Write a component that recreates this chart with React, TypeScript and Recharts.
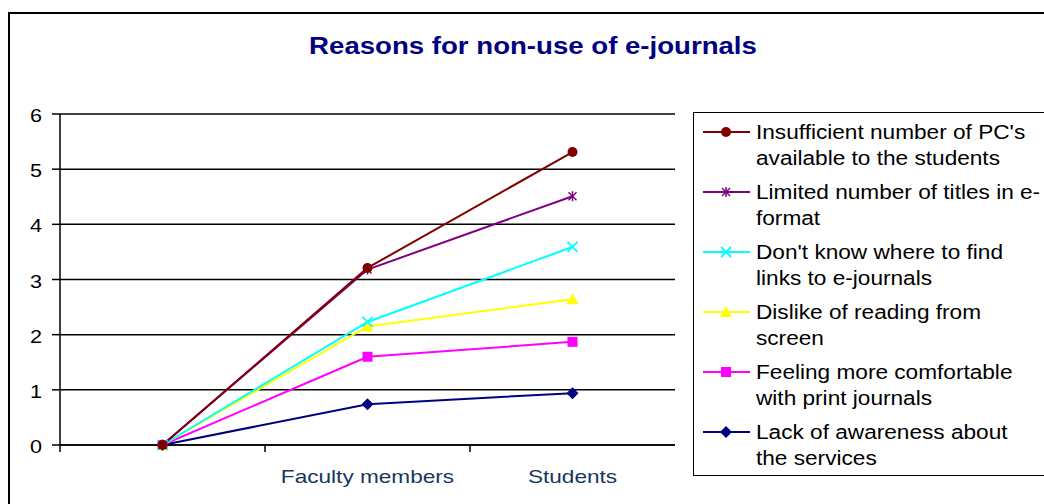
import React from 'react';
import { LineChart, Line, XAxis, YAxis, CartesianGrid } from 'recharts';

const categories = ['', 'Faculty members', 'Students'];

const insufficientPCs = [0, 3.21, 5.31];
const limitedTitles = [0, 3.18, 4.51];
const dontKnowLinks = [0, 2.23, 3.59];
const dislikeScreen = [0, 2.15, 2.64];
const printComfort = [0, 1.6, 1.87];
const lackAwareness = [0, 0.74, 0.94];

const yTicks = [0, 1, 2, 3, 4, 5, 6];

const seriesNames = [
  "Insufficient number of PC's\navailable to the students",
  'Limited number of titles in e-\nformat',
  "Don't know where to find\nlinks to e-journals",
  'Dislike of reading from\nscreen',
  'Feeling more comfortable\nwith print journals',
  'Lack of awareness about\nthe services',
];

const series = [
  { key: 'pcs', values: insufficientPCs, color: '#800000', marker: 'circle' },
  { key: 'titles', values: limitedTitles, color: '#800080', marker: 'star' },
  { key: 'links', values: dontKnowLinks, color: '#00FFFF', marker: 'cross' },
  { key: 'screen', values: dislikeScreen, color: '#FFFF00', marker: 'triangle' },
  { key: 'print', values: printComfort, color: '#FF00FF', marker: 'square' },
  { key: 'aware', values: lackAwareness, color: '#000080', marker: 'diamond' },
];

const data = categories.map((cat, i) => {
  const row: any = { cat };
  series.forEach((s) => (row[s.key] = s.values[i]));
  return row;
});

const FONT = '"Liberation Sans", Arial, sans-serif';

function Marker({ type, cx, cy, color }: { type: string; cx: number; cy: number; color: string }) {
  switch (type) {
    case 'circle':
      return <circle cx={cx} cy={cy} r={5} fill={color} />;
    case 'star':
      return (
        <g stroke={color} strokeWidth={1.5}>
          <line x1={cx - 4} y1={cy - 4} x2={cx + 4} y2={cy + 4} />
          <line x1={cx - 4} y1={cy + 4} x2={cx + 4} y2={cy - 4} />
          <line x1={cx} y1={cy - 5} x2={cx} y2={cy + 5} />
        </g>
      );
    case 'cross':
      return (
        <g stroke={color} strokeWidth={1.8}>
          <line x1={cx - 5} y1={cy - 5} x2={cx + 5} y2={cy + 5} />
          <line x1={cx - 5} y1={cy + 5} x2={cx + 5} y2={cy - 5} />
        </g>
      );
    case 'triangle':
      return <polygon points={`${cx},${cy - 6} ${cx + 6},${cy + 5} ${cx - 6},${cy + 5}`} fill={color} />;
    case 'square':
      return <rect x={cx - 5} y={cy - 5} width={10} height={10} fill={color} />;
    default:
      return <polygon points={`${cx},${cy - 6} ${cx + 6},${cy} ${cx},${cy + 6} ${cx - 6},${cy}`} fill={color} />;
  }
}

const XTick = (props: any) => {
  const { x, y, payload } = props;
  const off = payload.offset ?? 0;
  return (
    <g>
      <line x1={x - off} y1={y} x2={x - off} y2={y + 7} stroke="#000" strokeWidth={1.5} />
      <text
        transform={`translate(${x},${y + 38}) scale(1.19,1)`}
        textAnchor="middle"
        fill="#17375E"
        fontSize={19}
        fontFamily={FONT}
      >
        {payload.value}
      </text>
    </g>
  );
};

const YTick = (props: any) => {
  const { x, y, payload } = props;
  return (
    <text
      transform={`translate(${x},${y + 8}) scale(1.2,1)`}
      textAnchor="end"
      fill="#000"
      fontSize={18}
      fontFamily={FONT}
    >
      {payload.value}
    </text>
  );
};

export default function App() {
  return (
    <div
      style={{
        position: 'fixed',
        left: 0,
        top: 0,
        width: 1044,
        height: 504,
        overflow: 'hidden',
        background: '#fff',
        fontFamily: FONT,
      }}
    >
      <div
        style={{
          position: 'absolute',
          left: 8,
          top: 12,
          width: 1100,
          height: 600,
          border: '2px solid #000',
        }}
      />
      <div
        style={{
          position: 'absolute',
          left: 533,
          top: 46,
          transform: 'translate(-50%, -50%) scaleX(1.2)',
          color: '#000080',
          fontWeight: 'bold',
          fontSize: 23,
          whiteSpace: 'nowrap',
        }}
      >
        Reasons for non-use of e-journals
      </div>

      <div style={{ position: 'absolute', left: 0, top: 0 }}>
        <LineChart width={700} height={504} data={data} margin={{ top: 114, right: 25, bottom: 19, left: 0 }}>
          <CartesianGrid vertical={false} stroke="#000" strokeWidth={1.5} />
          <XAxis
            dataKey="cat"
            scale="band"
            tickSize={0}
            tickMargin={0}
            height={40}
            axisLine={{ stroke: '#000', strokeWidth: 1.5 }}
            tick={<XTick />}
            interval={0}
          />
          <YAxis
            domain={[0, 6]}
            ticks={yTicks}
            width={60}
            tickSize={8}
            tickMargin={10}
            axisLine={{ stroke: '#000', strokeWidth: 1.5 }}
            tickLine={{ stroke: '#000', strokeWidth: 1.5 }}
            tick={<YTick />}
          />
          {[...series].reverse().map((s) => (
            <Line
              key={s.key}
              dataKey={s.key}
              type="linear"
              stroke={s.color}
              strokeWidth={2}
              isAnimationActive={false}
              dot={(p: any) => (
                <Marker key={`${s.key}-${p.index}`} type={s.marker} cx={p.cx} cy={p.cy} color={s.color} />
              )}
              activeDot={false}
            />
          ))}
        </LineChart>
      </div>

      <div
        style={{
          position: 'absolute',
          left: 693,
          top: 112,
          width: 420,
          height: 362,
          border: '1.5px solid #000',
        }}
      >
        {series.map((s, i) => (
          <div
            key={s.key}
            style={{ position: 'absolute', left: 0, top: 6 + i * 60, height: 52, width: 400 }}
          >
            <svg width={50} height={26} style={{ position: 'absolute', left: 9, top: 0 }}>
              <line x1={0} y1={13} x2={47} y2={13} stroke={s.color} strokeWidth={2} />
              <Marker type={s.marker} cx={23} cy={13} color={s.color} />
            </svg>
            <div
              style={{
                position: 'absolute',
                left: 62,
                top: 0,
                fontSize: 19.5,
                lineHeight: '26px',
                whiteSpace: 'pre-line',
                color: '#000',
                transform: 'scaleX(1.16)',
                transformOrigin: 'left top',
              }}
            >
              {seriesNames[i]}
            </div>
          </div>
        ))}
      </div>
    </div>
  );
}
